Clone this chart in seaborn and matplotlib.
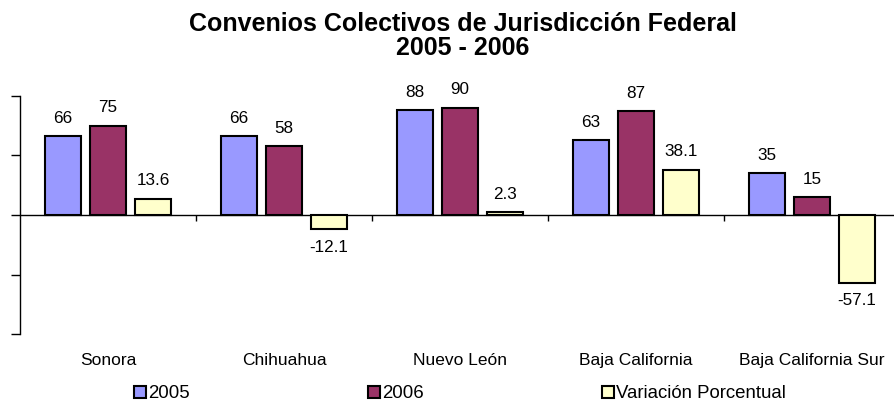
import numpy as np
import pandas as pd
import matplotlib
matplotlib.use("Agg")
import matplotlib.pyplot as plt
import seaborn as sns

# data
estados = ["Sonora", "Chihuahua", "Nuevo León", "Baja California", "Baja California Sur"]
series = ["2005", "2006", "Variación Porcentual"]
v2005 = [66, 66, 88, 63, 35]
v2006 = [75, 58, 90, 87, 15]
variacion = [13.6, -12.1, 2.3, 38.1, -57.1]
colores = ["#9999FF", "#993366", "#FFFFCC"]

Data = pd.DataFrame({
    "Estado": estados * 3,
    "Serie": [s for s in series for _ in estados],
    "Valor": v2005 + v2006 + variacion,
})

sns.set_style("white")
plt.rcParams["font.family"] = ["Liberation Sans", "DejaVu Sans"]
plt.rcParams["text.color"] = "black"
plt.rcParams["xtick.color"] = "black"
plt.rcParams["ytick.color"] = "black"

fig = plt.figure(figsize=(8.94, 4.05), dpi=100)
ax = fig.add_axes([20 / 894, 71 / 405, 880 / 894, 238 / 405])

sns.barplot(data=Data, x="Estado", y="Valor", hue="Serie", order=estados,
            hue_order=series, palette=colores, saturation=1, edgecolor="black",
            linewidth=1.5, width=0.768, gap=0.22, errorbar=None, legend=False, ax=ax)

etiquetas = [[str(v) for v in v2005], [str(v) for v in v2006],
             [f"{v:.1f}" for v in variacion]]
for cont, labs in zip(ax.containers, etiquetas):
    ax.bar_label(cont, labels=labs, padding=7.5, fontsize=12.3, color="black")

ax.set_ylim(-100, 100)
ax.set_xlim(-0.5, len(estados) - 0.5)
ax.set_yticks([-100, -50, 0, 50, 100])
ax.set_yticklabels([])
ax.tick_params(axis="y", direction="out", length=6.5, width=1, color="black", left=True)
ax.tick_params(axis="x", length=0, pad=13.5, labelsize=12.5, labelcolor="black")
ax.set_xlabel("")
ax.set_ylabel("")
for s in ["top", "right", "bottom"]:
    ax.spines[s].set_visible(False)
ax.spines["left"].set_color("black")
ax.spines["left"].set_linewidth(1)

# zero line with category separators
ax.axhline(0, color="black", lw=1, zorder=0.5)
ax.vlines(np.arange(0.5, len(estados) - 0.5), -5, 0, color="black", lw=1)

fig.text(463 / 894, 1 - 31 / 405, "Convenios Colectivos de Jurisdicción Federal",
         ha="center", va="baseline", fontsize=18, fontweight="bold")
fig.text(463 / 894, 1 - 55 / 405, "2005 - 2006",
         ha="center", va="baseline", fontsize=18, fontweight="bold")

fig.legend(ax.containers, series, loc="center left", bbox_to_anchor=(134 / 894, 1 - 394 / 405),
           ncol=3, frameon=False, fontsize=13.4, handlelength=0.65, handleheight=0.65,
           handletextpad=0.12, columnspacing=9.55, borderpad=0, borderaxespad=0)

fig.savefig("out.png", dpi=100)
